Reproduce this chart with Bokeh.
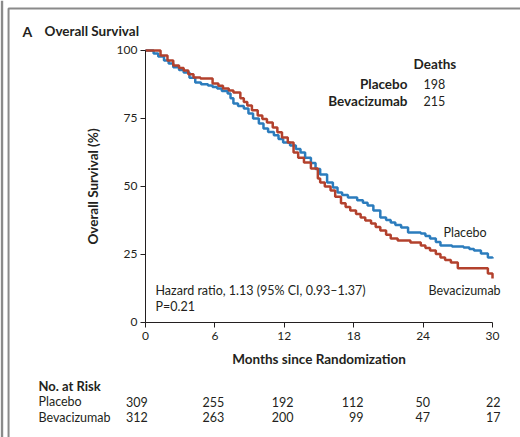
from bokeh.plotting import figure
from bokeh.models import Label, Range1d, FixedTicker, LinearAxis
from bokeh.embed import file_html
from bokeh.resources import INLINE

# ---- data ----
placebo_t = [0, 0.7, 1.1, 1.6, 2.0, 2.4, 2.9, 3.3, 3.8, 4.3, 4.8, 5.4, 5.8, 6.2, 6.6, 7.1, 7.35, 7.6,
             8.0, 8.5, 8.9, 9.3, 9.8, 10.2, 10.6, 11.1, 11.5, 11.9, 12.5, 13.0, 13.4, 13.8, 14.3,
             14.7, 15.1, 15.7, 16.2, 16.6, 17.0, 17.5, 18.3, 18.8, 19.2, 19.7, 20.3, 20.8, 21.2,
             21.6, 22.1, 22.7, 23.8, 24.2, 24.6, 25.1, 25.5, 26.5, 27.5, 28.0, 28.4, 29.0, 29.6, 30.0]
placebo_s = [100, 98.9, 97.8, 96.3, 95.2, 93.8, 92.8, 91.9, 90.0, 88.2, 87.6, 87.1, 86.6, 86.0, 85.1,
             84.2, 82.4, 80.5, 79.6, 78.7, 76.8, 75.0, 73.2, 71.3, 70.0, 68.8, 67.5, 66.2, 65.1,
             63.8, 62.5, 60.6, 58.6, 56.4, 54.4, 51.5, 49.6, 47.8, 46.9, 46.0, 44.9, 44.0, 43.0,
             41.2, 38.6, 37.7, 36.8, 35.8, 34.9, 33.1, 32.7, 31.8, 30.9, 29.6, 28.3, 27.9, 27.6,
             27.0, 26.5, 25.4, 23.9, 23.5]

bev_t = [0, 1.3, 1.9, 2.4, 2.9, 3.3, 3.7, 4.15, 4.75, 5.8, 6.3, 6.7, 7.2, 7.6, 8.2, 8.5, 8.8, 9.2,
         9.7, 10.1, 10.5, 11.0, 11.4, 11.8, 12.3, 12.8, 13.2, 13.7, 14.3, 14.9, 15.1, 15.5, 16.0,
         16.4, 16.9, 17.3, 17.7, 18.2, 18.6, 19.0, 19.5, 19.9, 20.3, 20.8, 21.2, 21.8, 22.9, 23.8,
         24.2, 24.6, 25.1, 25.5, 25.9, 26.4, 27.0, 29.6, 30.0]
bev_s = [100, 98.2, 96.3, 94.5, 93.6, 92.6, 91.3, 90.1, 89.7, 87.9, 87.0, 86.0, 85.3, 84.6, 82.4,
         81.1, 79.8, 78.0, 76.1, 74.8, 73.5, 71.7, 69.9, 68.0, 66.2, 62.5, 60.6, 58.8, 56.6, 52.9,
         51.5, 50.0, 48.5, 46.2, 43.8, 42.5, 41.2, 39.9, 38.6, 37.5, 36.4, 35.1, 33.8, 32.3, 30.9,
         30.1, 29.4, 28.3, 27.4, 26.5, 25.2, 23.9, 23.0, 22.1, 19.9, 18.0, 16.2]

x_ticks = [0, 6, 12, 18, 24, 30]
y_ticks = [0, 25, 50, 75, 100]
groups = ["Placebo", "Bevacizumab"]
deaths = [198, 215]
risk_placebo = [309, 255, 192, 112, 50, 22]
risk_bev = [312, 263, 200, 99, 47, 17]

BLUE = "#2b7cbd"
RED = "#b3412d"
INK = "#231f20"
FONT = "Lato"

# the frame fills the whole canvas; axes are pinned at x=0 / y=0
p = figure(width=520, height=437, min_border=0,
           x_range=Range1d(-12.536, 32.42), y_range=Range1d(-42.28, 118.38),
           x_axis_location=None, y_axis_location=None,
           output_backend="svg", toolbar_location=None)
p.xgrid.visible = False
p.ygrid.visible = False
p.outline_line_color = None
p.background_fill_color = "white"
p.border_fill_color = "white"

xax = LinearAxis(fixed_location=0)
yax = LinearAxis(fixed_location=0)
p.add_layout(xax, "below")
p.add_layout(yax, "left")

for ax, ticks, bounds in ((xax, x_ticks, (0, 30)), (yax, y_ticks, (0, 100))):
    ax.ticker = FixedTicker(ticks=ticks)
    ax.bounds = bounds
    ax.major_tick_out = 5
    ax.major_tick_in = 0
    ax.minor_tick_line_color = None
    ax.axis_line_color = INK
    ax.major_tick_line_color = INK
    ax.major_label_text_font = FONT
    ax.major_label_text_font_size = "12px"
    ax.major_label_text_color = INK
    ax.axis_label_text_font = FONT
    ax.axis_label_text_font_size = "13.5px"
    ax.axis_label_text_font_style = "bold"
    ax.axis_label_text_color = INK

xax.axis_label = "Months since Randomization"
xax.major_label_standoff = 5
xax.axis_label_standoff = 7
yax.axis_label = "Overall Survival (%)"
yax.major_label_standoff = 3
yax.axis_label_standoff = 13

p.step(placebo_t, placebo_s, mode="after", line_color=BLUE, line_width=2.5)
p.step(bev_t, bev_s, mode="after", line_color=RED, line_width=2.5)


def lab(x, y, text, align="left", bold=False, size="12.5px", color=INK):
    p.add_layout(Label(x=x, y=y, text=text, text_align=align, text_baseline="middle",
                       text_font=FONT, text_font_size=size, text_color=color,
                       text_font_style="bold" if bold else "normal"))


# panel frame decoration (gray page rules)
p.line([-11.84, -11.84, 32.42], [-42.28, 115.44, 115.44], line_color="#8a8a8a", line_width=2)
p.line([-12.41, -12.41], [-42.28, 118.38], line_color="#8a8a8a", line_width=2.5)

# title
lab(-10.63, 107.0, "A", bold=True, size="14px")
lab(-8.73, 107.0, "Overall Survival", bold=True, size="13.5px")

# deaths table
lab(23.17, 95.2, "Deaths", bold=True, size="13.5px")
for i, g in enumerate(groups):
    yy = 87.5 - i * 5.9
    lab(22.65, yy, g, align="right", bold=True, size="13.5px")
    lab(24.03, yy, str(deaths[i]), size="12.5px")

# hazard ratio
lab(0.86, 11.8, "Hazard ratio, 1.13 (95% CI, 0.93\u20131.37)")
lab(0.86, 5.9, "P=0.21")

# curve labels
lab(25.76, 33.1, "Placebo")
lab(24.47, 11.8, "Bevacizumab")

# risk table
lab(-9.25, -23.2, "No. at Risk", bold=True, size="13px")
risk_off = [0.2, 0.8, 0.8, 0.85, 0.6, 0.7]
for i, g in enumerate(groups):
    yy = -29.2 - i * 5.6
    lab(-9.25, yy, g)
    vals = risk_placebo if i == 0 else risk_bev
    for t, v, o in zip(x_ticks, vals, risk_off):
        lab(t + o, yy, str(v), align="right")

open("out.html", "w").write(file_html(p, INLINE))
